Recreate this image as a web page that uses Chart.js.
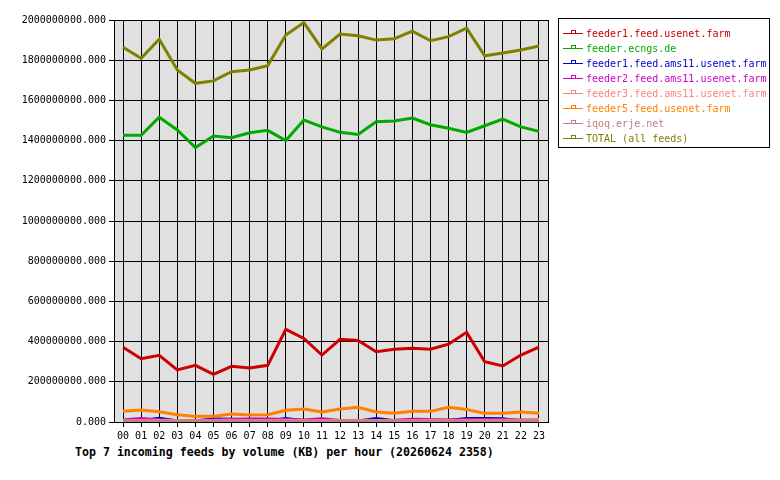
<!DOCTYPE html>
<html>
<head>
<meta charset="utf-8">
<script src="https://cdn.jsdelivr.net/npm/chart.js@4.4.1/dist/chart.umd.min.js"></script>
<style>
  body { margin: 0; background: #fff; width: 780px; height: 480px; position: relative; overflow: hidden; }
  #wrap { position: absolute; left: 0; top: 0; width: 560px; height: 445px; }
  #legend {
    position: absolute; left: 558px; top: 18px; width: 212px; height: 130px;
    border: 1px solid #000; font: 10px "DejaVu Sans Mono", "Liberation Mono", monospace;
    padding-top: 7px; box-sizing: border-box;
  }
  .row { height: 15px; line-height: 15px; position: relative; padding-left: 27px; white-space: nowrap; }
  .mk { position: absolute; left: 4px; top: 7px; width: 20px; height: 1px; }
  .mk i { position: absolute; left: 8px; top: -3px; width: 3px; height: 2px; border: 1px solid; border-bottom: none; background: #fff; }
  #title {
    position: absolute; left: 75px; top: 445px;
    font: bold 11.6px "DejaVu Sans Mono", "Liberation Mono", monospace; white-space: nowrap;
  }
</style>
</head>
<body>
<div id="wrap"><canvas id="chart" width="560" height="445"></canvas></div>
<div id="legend"></div>
<div id="title">Top 7 incoming feeds by volume (KB) per hour (20260624 2358)</div>
<script>
// ---------------- DATA ----------------

const hours = ["00","01","02","03","04","05","06","07","08","09","10","11",
               "12","13","14","15","16","17","18","19","20","21","22","23"];

const feedNames = [
  "feeder1.feed.usenet.farm",
  "feeder.ecngs.de",
  "feeder1.feed.ams11.usenet.farm",
  "feeder2.feed.ams11.usenet.farm",
  "feeder3.feed.ams11.usenet.farm",
  "feeder5.feed.usenet.farm",
  "iqoq.erje.net",
  "TOTAL (all feeds)"
];

const feedColors = ["#cc0000", "#00aa00", "#0000cc", "#cc00cc", "#ff8080", "#ff8000", "#c08080", "#808000"];

const feeder1Usenet = [372e6, 315e6, 332e6, 259e6, 282e6, 237e6, 277e6, 269e6, 282e6, 461e6, 416e6, 333e6,
                       411e6, 406e6, 350e6, 362e6, 367e6, 362e6, 387e6, 446e6, 300e6, 279e6, 333e6, 372e6];
const feederEcngs   = [1426e6, 1426e6, 1516e6, 1453e6, 1365e6, 1423e6, 1414e6, 1439e6, 1451e6, 1400e6, 1502e6, 1468e6,
                       1441e6, 1431e6, 1494e6, 1498e6, 1512e6, 1479e6, 1461e6, 1441e6, 1474e6, 1507e6, 1468e6, 1446e6];
const feeder1Ams11  = [5e6, 6e6, 18e6, 5e6, 5e6, 15e6, 14e6, 5e6, 5e6, 17e6, 6e6, 5e6,
                       5e6, 5e6, 17e6, 6e6, 5e6, 5e6, 8e6, 17e6, 17e6, 16e6, 5e6, 5e6];
const feeder2Ams11  = [10e6, 17e6, 10e6, 8e6, 7e6, 10e6, 14e6, 15e6, 15e6, 12e6, 10e6, 16e6,
                       8e6, 8e6, 7e6, 9e6, 14e6, 12e6, 10e6, 12e6, 12e6, 11e6, 10e6, 10e6];
const feeder3Ams11  = [8e6, 8e6, 9e6, 8e6, 8e6, 8e6, 9e6, 8e6, 8e6, 9e6, 8e6, 8e6,
                       8e6, 9e6, 8e6, 8e6, 8e6, 9e6, 8e6, 8e6, 8e6, 9e6, 10e6, 14e6];
const feeder5Usenet = [53e6, 60e6, 51e6, 36e6, 28e6, 28e6, 40e6, 35e6, 36e6, 58e6, 65e6, 50e6,
                       65e6, 73e6, 50e6, 43e6, 53e6, 53e6, 73e6, 62e6, 43e6, 43e6, 50e6, 43e6];
const iqoqErje      = [6e6, 6e6, 5e6, 6e6, 6e6, 5e6, 6e6, 6e6, 5e6, 6e6, 6e6, 5e6,
                       6e6, 6e6, 5e6, 6e6, 6e6, 5e6, 6e6, 6e6, 5e6, 6e6, 6e6, 6e6];
const totalAll      = [1864e6, 1809e6, 1904e6, 1751e6, 1685e6, 1697e6, 1743e6, 1751e6, 1773e6, 1925e6, 1987e6, 1856e6,
                       1930e6, 1922e6, 1900e6, 1907e6, 1945e6, 1897e6, 1917e6, 1959e6, 1822e6, 1836e6, 1851e6, 1871e6];

const seriesValues = [feeder1Usenet, feederEcngs, feeder1Ams11, feeder2Ams11, feeder3Ams11, feeder5Usenet, iqoqErje, totalAll];

const yMax = 2000000000;
const yStep = 200000000;

// ---------------- CHART ----------------

const plotBg = {
  id: "plotBg",
  beforeDraw(c) {
    const a = c.chartArea, g = c.ctx;
    g.save();
    g.fillStyle = "#e0e0e0";
    g.fillRect(a.left, a.top, a.right - a.left, a.bottom - a.top);
    g.restore();
  },
  afterDraw(c) {
    const a = c.chartArea, g = c.ctx;
    g.save();
    g.strokeStyle = "#000";
    g.lineWidth = 1;
    g.strokeRect(Math.round(a.left) + 0.5, Math.round(a.top) + 0.5,
                 Math.round(a.right - a.left), Math.round(a.bottom - a.top));
    g.restore();
  }
};

const mono = "'DejaVu Sans Mono', 'Liberation Mono', monospace";

new Chart(document.getElementById("chart"), {
  type: "line",
  data: {
    labels: hours,
    datasets: seriesValues.map((vals, i) => ({
      label: feedNames[i],
      data: vals,
      borderColor: feedColors[i],
      backgroundColor: feedColors[i],
      borderWidth: 3,
      pointRadius: 0,
      tension: 0,
      order: seriesValues.length - i
    }))
  },
  options: {
    responsive: false,
    animation: false,
    devicePixelRatio: 1,
    layout: { padding: { top: 20, right: 12, left: 0, bottom: 0 } },
    plugins: { legend: { display: false }, tooltip: { enabled: false } },
    scales: {
      x: {
        offset: true,
        grid: { color: "#000", lineWidth: 1, tickLength: 5, offset: false },
        border: { color: "#000" },
        ticks: { color: "#000", font: { family: mono, size: 10 }, padding: 3, maxRotation: 0, autoSkip: false },
        afterFit(s) { s.height = 23; }
      },
      y: {
        min: 0,
        max: yMax,
        grid: { color: "#000", lineWidth: 1, tickLength: 5 },
        border: { color: "#000" },
        ticks: {
          stepSize: yStep,
          autoSkip: false,
          color: "#000",
          font: { family: mono, size: 10 },
          padding: 3,
          callback: v => Number(v).toFixed(3)
        },
        afterFit(s) { s.width = 114; }
      }
    }
  },
  plugins: [plotBg]
});

// ---------------- LEGEND ----------------

const lg = document.getElementById("legend");
feedNames.forEach((name, i) => {
  const row = document.createElement("div");
  row.className = "row";
  row.style.color = feedColors[i];
  row.innerHTML = `<span class="mk" style="background:${feedColors[i]}"><i style="border-color:${feedColors[i]}"></i></span>${name}`;
  lg.appendChild(row);
});
</script>
</body>
</html>
